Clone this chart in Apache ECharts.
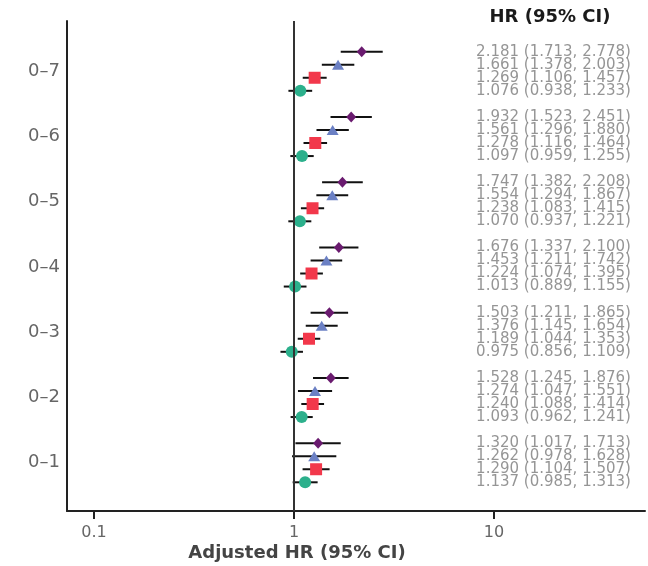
<!DOCTYPE html>
<html>
<head>
  <meta charset="utf-8">
  <title>Adjusted HR forest plot</title>
  <script src="https://cdn.jsdelivr.net/npm/echarts@6.0.0/dist/echarts.min.js"></script>
  <style>
    body { margin: 0; background: #fff; }
    #chart { width: 648px; height: 566px; }
  </style>
</head>
<body>
  <div id="chart"></div>
  <script>
    // groups from bottom to top
    const groups = ['0–1', '0–2', '0–3', '0–4', '0–5', '0–6', '0–7'];

    // purple diamonds (top row of each group)
    const hrDiamond = [1.320, 1.528, 1.503, 1.676, 1.747, 1.932, 2.181];
    const loDiamond = [1.017, 1.245, 1.211, 1.337, 1.382, 1.523, 1.713];
    const hiDiamond = [1.713, 1.876, 1.865, 2.100, 2.208, 2.451, 2.778];

    // blue triangles
    const hrTriangle = [1.262, 1.274, 1.376, 1.453, 1.554, 1.561, 1.661];
    const loTriangle = [0.978, 1.047, 1.145, 1.211, 1.294, 1.296, 1.378];
    const hiTriangle = [1.628, 1.551, 1.654, 1.742, 1.867, 1.880, 2.003];

    // red squares
    const hrSquare = [1.290, 1.240, 1.189, 1.224, 1.238, 1.278, 1.269];
    const loSquare = [1.104, 1.088, 1.044, 1.074, 1.083, 1.116, 1.106];
    const hiSquare = [1.507, 1.414, 1.353, 1.395, 1.415, 1.464, 1.457];

    // green circles (bottom row of each group)
    const hrCircle = [1.137, 1.093, 0.975, 1.013, 1.070, 1.097, 1.076];
    const loCircle = [0.985, 0.962, 0.856, 0.889, 0.937, 0.959, 0.938];
    const hiCircle = [1.313, 1.241, 1.109, 1.155, 1.221, 1.255, 1.233];

    const xTicks = [0.1, 1, 10];

    const rows = [
      { hr: hrDiamond, lo: loDiamond, hi: hiDiamond, off: 0.3, symbol: 'diamond', size: [10, 11], color: '#6a1b6f' },
      { hr: hrTriangle, lo: loTriangle, hi: hiTriangle, off: 0.1, symbol: 'triangle', size: [12, 10], color: '#6b80c4' },
      { hr: hrSquare, lo: loSquare, hi: hiSquare, off: -0.1, symbol: 'rect', size: 12, color: '#f2384b' },
      { hr: hrCircle, lo: loCircle, hi: hiCircle, off: -0.3, symbol: 'circle', size: 12, color: '#2cb08c' }
    ];

    const textX = 48.4; // x of the right edge of the HR text column
    const fmt = v => v.toFixed(3);

    const barData = [];
    const textData = [];
    const series = [];
    rows.forEach(r => {
      const pts = [];
      groups.forEach((g, i) => {
        const y = i + r.off;
        barData.push([r.lo[i], r.hi[i], y]);
        pts.push([r.hr[i], y]);
        textData.push({
          value: [textX, y],
          label: { formatter: fmt(r.hr[i]) + ' (' + fmt(r.lo[i]) + ', ' + fmt(r.hi[i]) + ')' }
        });
      });
      series.push({
        type: 'scatter',
        symbol: r.symbol,
        symbolSize: r.size,
        itemStyle: { color: r.color, opacity: 1 },
        z: 4,
        data: pts
      });
    });

    series.unshift({
      type: 'custom',
      z: 3,
      data: barData,
      renderItem: function (params, api) {
        const a = api.coord([api.value(0), api.value(2)]);
        const b = api.coord([api.value(1), api.value(2)]);
        return {
          type: 'line',
          shape: { x1: a[0], y1: a[1], x2: b[0], y2: b[1] },
          style: { stroke: '#111', lineWidth: 2 }
        };
      },
      markLine: {
        silent: true,
        symbol: 'none',
        label: { show: false },
        lineStyle: { color: '#333', width: 2, type: 'solid' },
        data: [{ xAxis: 1 }]
      }
    });

    series.push({
      type: 'scatter',
      symbolSize: 0,
      z: 5,
      data: textData,
      label: {
        show: true,
        position: 'left',
        distance: 0,
        align: 'right',
        verticalAlign: 'middle',
        fontFamily: 'DejaVu Sans',
        fontSize: 15,
        color: '#7a7a7a'
      }
    });

    const chart = echarts.init(document.getElementById('chart'));
    chart.setOption({
      animation: false,
      backgroundColor: '#fff',
      title: [
        {
          text: 'HR (95% CI)', left: 550, top: 8, textAlign: 'center', padding: 0,
          textStyle: { fontFamily: 'DejaVu Sans', fontWeight: 'bold', fontSize: 18, color: '#1a1a1a' }
        },
        {
          text: 'Adjusted HR (95% CI)', left: 297, top: 544, textAlign: 'center', padding: 0,
          textStyle: { fontFamily: 'DejaVu Sans', fontWeight: 'bold', fontSize: 18, color: '#444' }
        }
      ],
      grid: { left: 67, right: 3, top: 21, bottom: 55 },
      xAxis: {
        type: 'log',
        logBase: 10,
        min: 0.0733,
        max: 56.9,
        splitLine: { show: false },
        axisLine: { show: true, onZero: false, lineStyle: { color: '#222', width: 2 } },
        axisTick: { show: true, length: 8, customValues: xTicks, lineStyle: { color: '#222', width: 2 } },
        axisLabel: {
          customValues: xTicks,
          margin: 14,
          fontFamily: 'DejaVu Sans',
          fontSize: 16,
          color: '#666',
          formatter: v => String(v)
        }
      },
      yAxis: {
        type: 'value',
        min: -0.74,
        max: 6.77,
        splitLine: { show: false },
        axisLine: { show: true, onZero: false, lineStyle: { color: '#222', width: 2 } },
        axisTick: { show: false },
        axisLabel: {
          customValues: [0, 1, 2, 3, 4, 5, 6],
          margin: 7,
          fontFamily: 'DejaVu Sans',
          fontSize: 18,
          color: '#666',
          formatter: v => groups[Math.round(v)]
        }
      },
      series: series
    });
  </script>
</body>
</html>
